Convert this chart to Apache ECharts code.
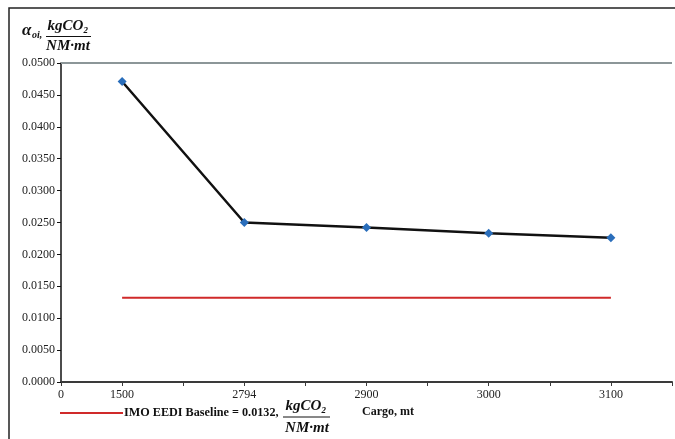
<!DOCTYPE html>
<html>
<head>
<meta charset="utf-8">
<script src="https://cdn.jsdelivr.net/npm/echarts@6/dist/echarts.min.js"></script>
<style>
  html, body { margin: 0; padding: 0; background: #ffffff; }
  #chart { width: 675px; height: 439px; }
</style>
</head>
<body>
<div id="chart"></div>
<script>
// Cargo cases and the corresponding attained index (kgCO2 / NM·mt)
const cargoLabels = ['1500', '2794', '2900', '3000', '3100'];
const alphaValues = [0.0471, 0.0250, 0.0242, 0.0233, 0.0226];
const baselineValue = 0.0132;
const baselineName = 'IMO EEDI Baseline = 0.0132,';
// Tick labels along the cargo axis (one slot per half step)
const xTickLabels = ['0', '1500', '', '2794', '', '2900', '', '3000', '', '3100', ''];

const serif = 'Liberation Serif';
const mathFont = 'bold italic 15px "Liberation Serif"';

const alphaData = cargoLabels.map((c, i) => [2 * i + 1, alphaValues[i]]);
const baselineData = cargoLabels.map((c, i) => [2 * i + 1, baselineValue]);

const chart = echarts.init(document.getElementById('chart'), null, { renderer: 'canvas' });

chart.setOption({
  animation: false,
  backgroundColor: '#ffffff',
  grid: { left: 61, right: 0, top: 63, bottom: 57, containLabel: false },
  legend: {
    left: 60, top: 407, padding: 0,
    itemWidth: 63, itemHeight: 2, itemGap: 10,
    selectedMode: false,
    data: [{ name: baselineName, icon: 'rect' }],
    textStyle: { fontFamily: serif, fontWeight: 'bold', fontSize: 12.2, color: '#111', padding: [0, 0, 0, -4] }
  },
  xAxis: {
    type: 'value', min: 0, max: 10, interval: 1,
    axisLine: { show: true, onZero: false, lineStyle: { color: '#3a3a3a', width: 2 } },
    axisTick: { show: true, length: 4, lineStyle: { color: '#3a3a3a', width: 1 } },
    splitLine: { show: false },
    axisLabel: {
      margin: 7,
      fontFamily: serif, fontSize: 12, color: '#222',
      formatter: v => xTickLabels[Math.round(v)] || ''
    }
  },
  yAxis: {
    type: 'value', min: 0, max: 0.05, interval: 0.005,
    axisLine: { show: true, lineStyle: { color: '#111', width: 1.5 } },
    axisTick: { show: true, length: 4, lineStyle: { color: '#111', width: 1 } },
    splitLine: { show: false },
    axisLabel: {
      margin: 6,
      fontFamily: serif, fontSize: 12, color: '#222',
      formatter: v => v.toFixed(4)
    }
  },
  series: [
    {
      name: 'alpha',
      type: 'line',
      data: alphaData,
      symbol: 'diamond',
      symbolSize: 9,
      itemStyle: { color: '#2a6ebb' },
      lineStyle: { color: '#111', width: 2.5 },
      z: 3,
      markLine: {
        silent: true,
        symbol: 'none',
        label: { show: false },
        lineStyle: { color: '#8c9698', width: 2, type: 'solid' },
        data: [{ yAxis: 0.05 }]
      }
    },
    {
      name: baselineName,
      type: 'line',
      data: baselineData,
      symbol: 'none',
      lineStyle: { color: '#d02a2a', width: 2 },
      itemStyle: { color: '#d02a2a' },
      z: 2
    }
  ],
  graphic: [
    // outer frame (left and top edges)
    { type: 'polyline', silent: true,
      shape: { points: [[9, 439], [9, 8], [675, 8]] },
      style: { stroke: '#222', lineWidth: 1.5, fill: null } },
    // y-axis title: alpha_oi, kgCO2 / NM·mt
    { type: 'text', silent: true,
      style: { text: 'α', x: 22, y: 31, font: 'bold italic 17px "Liberation Serif"', fill: '#111', textVerticalAlign: 'middle' } },
    { type: 'text', silent: true,
      style: { text: 'oi,', x: 32, y: 35, font: 'bold italic 10px "Liberation Serif"', fill: '#111', textVerticalAlign: 'middle' } },
    { type: 'text', silent: true,
      style: { text: 'kgCO₂', x: 68, y: 26, font: mathFont, fill: '#111', textAlign: 'center', textVerticalAlign: 'middle' } },
    { type: 'line', silent: true,
      shape: { x1: 46, y1: 36.5, x2: 91, y2: 36.5 }, style: { stroke: '#111', lineWidth: 1 } },
    { type: 'text', silent: true,
      style: { text: 'NM·mt', x: 68, y: 46, font: mathFont, fill: '#111', textAlign: 'center', textVerticalAlign: 'middle' } },
    // unit fraction following the legend entry
    { type: 'text', silent: true,
      style: { text: 'kgCO₂', x: 306, y: 406, font: mathFont, fill: '#111', textAlign: 'center', textVerticalAlign: 'middle' } },
    { type: 'line', silent: true,
      shape: { x1: 283, y1: 417, x2: 330, y2: 417 }, style: { stroke: '#111', lineWidth: 1 } },
    { type: 'text', silent: true,
      style: { text: 'NM·mt', x: 307, y: 428, font: mathFont, fill: '#111', textAlign: 'center', textVerticalAlign: 'middle' } },
    // axis title
    { type: 'text', silent: true,
      style: { text: 'Cargo, mt', x: 362, y: 412, font: 'bold 12px "Liberation Serif"', fill: '#111', textVerticalAlign: 'middle' } }
  ]
});
</script>
</body>
</html>
